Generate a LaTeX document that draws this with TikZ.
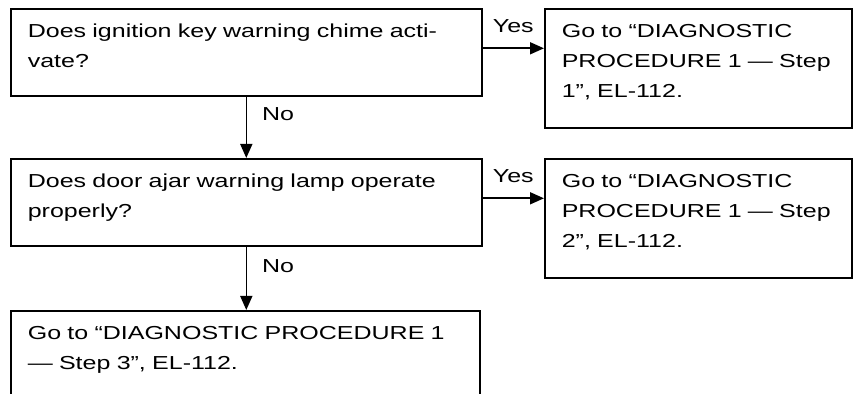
\documentclass[tikz,border=0pt]{standalone}
\usepackage{fontspec}
\setmainfont[FakeStretch=1.33]{Liberation Sans}
\usetikzlibrary{arrows.meta}

\begin{document}
\begin{tikzpicture}[
    x=0.5pt, y=-0.5pt,
    every node/.style={font=\fontsize{9.4pt}{15pt}\selectfont}
]

\tikzset{ask/.style 2 args={draw, rectangle, line width=0.8pt, anchor=north west,
    inner xsep=8.5pt, inner ysep=0pt, align=left,
    text width=#1, text height=14.5pt, text depth=#2}}
\tikzset{flow/.style={line width=0.8pt, -{Triangle[length=7pt, width=6pt]}}}
\tikzset{ans/.style={inner sep=0pt}}

\useasboundingbox (0,0) rectangle (853,394);
\clip (0,0) rectangle (853,394);

% ================= questions =================

\node[ask={218.5pt}{29pt}] (q1) at (10,8)
    {Does ignition key warning chime acti-\\vate?};
\node[ask={218.5pt}{29pt}] (q2) at (10,158)
    {Does door ajar warning lamp operate\\properly?};

% ================= renvois =================

\node[ask={136.5pt}{45pt}] (y1) at (544,8)
    {Go to “DIAGNOSTIC\\PROCEDURE 1 — Step\\1”, EL-112.};
\node[ask={136.5pt}{45pt}] (y2) at (544,158)
    {Go to “DIAGNOSTIC\\PROCEDURE 1 — Step\\2”, EL-112.};
\node[ask={217.5pt}{50pt}] (g3) at (10,310)
    {Go to “DIAGNOSTIC PROCEDURE 1\\— Step 3”, EL-112.};

% ================= fleches =================

\coordinate (a1) at ([yshift=2pt]q1.east);
\coordinate (a2) at ([yshift=2pt]q2.east);

\draw[flow] (a1) -- node[ans, midway, above=7.5pt] {Yes} (a1 -| y1.west);
\draw[flow] (a2) -- node[ans, midway, above=7.5pt] {Yes} (a2 -| y2.west);

\draw[flow] (q1.south) -- node[ans, at start, anchor=base west, xshift=7.5pt, yshift=-12pt] {No} (q2.north);
\draw[flow] (q2.south) -- node[ans, at start, anchor=base west, xshift=7.5pt, yshift=-13pt] {No} (q2.south |- g3.north);

\end{tikzpicture}
\end{document}
